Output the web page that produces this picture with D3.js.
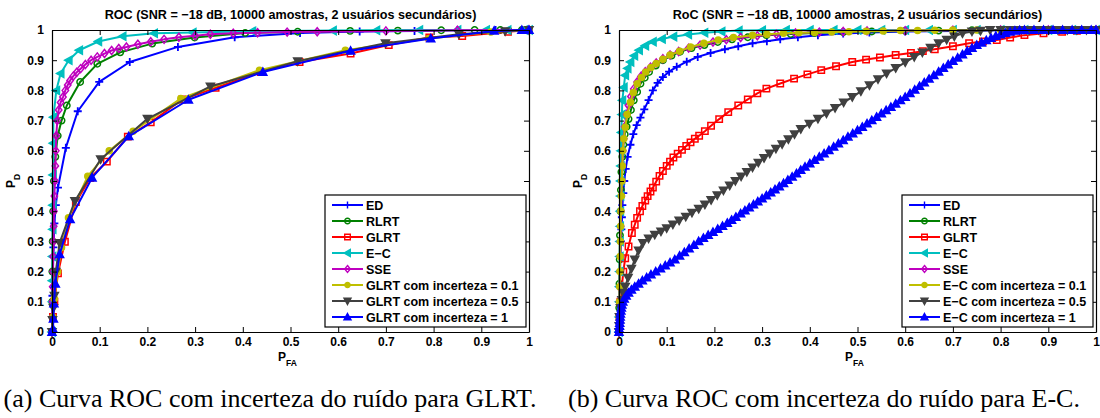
<!DOCTYPE html>
<html>
<head>
<meta charset="utf-8">
<script src="https://cdn.jsdelivr.net/npm/d3@7"></script>
<style>
  body { margin: 0; background: #fff; }
  svg { display: block; }
  text { font-family: "Liberation Sans", Arial, Helvetica, sans-serif; font-weight: bold; fill: #000; }
  .caption { font-family: "Liberation Serif", "Times New Roman", serif; font-weight: normal; }
</style>
</head>
<body>
<svg id="fig" width="1100" height="418"></svg>
<script>
// ---- axis ticks ----
const tickValues = [0, 0.1, 0.2, 0.3, 0.4, 0.5, 0.6, 0.7, 0.8, 0.9, 1];
const tickLabels = ["0", "0.1", "0.2", "0.3", "0.4", "0.5", "0.6", "0.7", "0.8", "0.9", "1"];

// ---- series names ----
const namesA = ["ED", "RLRT", "GLRT", "E\u2212C", "SSE",
  "GLRT com incerteza = 0.1", "GLRT com incerteza = 0.5", "GLRT com incerteza = 1"];
const namesB = ["ED", "RLRT", "GLRT", "E\u2212C", "SSE",
  "E\u2212C com incerteza = 0.1", "E\u2212C com incerteza = 0.5", "E\u2212C com incerteza = 1"];

// ---- panel (a): [PFA, PD] ----
const edA = [[0,0],[0.0005,0.05],[0.001,0.12],[0.002,0.2],[0.003,0.28],[0.005,0.36],[0.008,0.42],[0.0125,0.478],[0.029,0.61],[0.054,0.731],[0.099,0.828],[0.163,0.894],[0.264,0.944],[0.383,0.976],[0.52,0.99],[0.645,0.995],[0.76,0.997],[0.85,0.999],[0.93,1],[1,1]];
const rlrtA = [[0,0],[0.0003,0.1],[0.0008,0.2],[0.0015,0.3],[0.0025,0.4],[0.004,0.5],[0.007,0.58],[0.012,0.65],[0.02,0.7],[0.031,0.75],[0.059,0.828],[0.095,0.888],[0.143,0.926],[0.21,0.955],[0.299,0.975],[0.405,0.99],[0.515,0.994],[0.625,0.997],[0.725,0.998],[0.816,0.999],[0.886,1],[0.94,1],[0.985,1],[1,1]];
const glrtA = [[0,0],[0.002,0.05],[0.005,0.1],[0.0125,0.194],[0.027,0.299],[0.05,0.43],[0.08,0.51],[0.115,0.564],[0.159,0.647],[0.207,0.694],[0.273,0.77],[0.343,0.809],[0.438,0.861],[0.519,0.894],[0.626,0.922],[0.706,0.95],[0.791,0.975],[0.86,0.98],[0.956,0.994],[1,1]];
const ecA = [[0,0],[0.0003,0.1],[0.0006,0.17],[0.001,0.25],[0.0013,0.34],[0.0016,0.42],[0.002,0.52],[0.0025,0.625],[0.003,0.711],[0.009,0.8],[0.018,0.856],[0.035,0.9],[0.057,0.933],[0.097,0.962],[0.148,0.979],[0.214,0.989],[0.295,0.992],[0.42,0.996],[0.589,0.998],[0.68,0.999],[0.77,1],[0.85,1],[0.91,1],[0.955,1],[0.99,1],[1,1]];
const sseA = [[0,0],[0.0005,0.05],[0.001,0.1],[0.0015,0.15],[0.002,0.2],[0.0025,0.25],[0.003,0.3],[0.0035,0.35],[0.004,0.4],[0.005,0.45],[0.006,0.5],[0.007,0.55],[0.008,0.6],[0.009,0.65],[0.011,0.7],[0.014,0.735],[0.018,0.76],[0.023,0.778],[0.028,0.8],[0.033,0.818],[0.038,0.833],[0.045,0.848],[0.052,0.86],[0.06,0.872],[0.07,0.886],[0.082,0.9],[0.095,0.911],[0.11,0.922],[0.125,0.932],[0.14,0.939],[0.156,0.944],[0.18,0.953],[0.207,0.961],[0.235,0.969],[0.266,0.976],[0.3,0.981],[0.332,0.986],[0.38,0.989],[0.431,0.991],[0.493,0.993],[0.556,0.994],[0.7,0.997],[0.85,0.999],[1,1]];
const glrt01A = [[0,0],[0.002,0.05],[0.005,0.11],[0.012,0.2],[0.02,0.28],[0.0345,0.378],[0.075,0.516],[0.12,0.6],[0.17,0.665],[0.27,0.773],[0.435,0.867],[0.615,0.933],[0.79,0.972],[0.92,0.993],[1,1]];
const glrt05A = [[0,0],[0.001,0.04],[0.003,0.08],[0.005,0.12],[0.008,0.2],[0.016,0.295],[0.048,0.434],[0.102,0.572],[0.2,0.706],[0.332,0.813],[0.515,0.897],[0.699,0.956],[0.853,0.986],[0.95,0.996],[1,1]];
const glrt1A = [[0,0],[0.002,0.01],[0.003,0.044],[0.004,0.094],[0.007,0.16],[0.016,0.257],[0.038,0.373],[0.084,0.511],[0.161,0.648],[0.286,0.769],[0.442,0.861],[0.626,0.931],[0.794,0.972],[0.927,0.997],[0.985,1],[1,1]];

// ---- panel (b): [PFA, PD] ----
const edB = [[0,0],[0.0005,0.05],[0.001,0.1],[0.0015,0.15],[0.002,0.2],[0.003,0.25],[0.004,0.3],[0.005,0.34],[0.006,0.38],[0.007,0.42],[0.009,0.46],[0.011,0.5],[0.014,0.54],[0.018,0.58],[0.024,0.62],[0.03,0.655],[0.037,0.685],[0.045,0.71],[0.053,0.737],[0.062,0.768],[0.071,0.8],[0.081,0.825],[0.092,0.844],[0.105,0.862],[0.121,0.878],[0.142,0.895],[0.165,0.911],[0.192,0.924],[0.222,0.936],[0.25,0.946],[0.28,0.956],[0.31,0.963],[0.338,0.969],[0.375,0.976],[0.417,0.983],[0.47,0.988],[0.525,0.992],[0.6,0.995],[0.7,0.997],[0.8,0.999],[0.9,1],[1,1]];
const rlrtB = [[0,0],[0.0005,0.08],[0.001,0.16],[0.0015,0.24],[0.002,0.32],[0.003,0.4],[0.004,0.47],[0.005,0.53],[0.007,0.58],[0.009,0.62],[0.012,0.655],[0.016,0.68],[0.02,0.705],[0.025,0.735],[0.031,0.767],[0.038,0.795],[0.045,0.822],[0.054,0.842],[0.063,0.861],[0.077,0.882],[0.092,0.9],[0.11,0.915],[0.128,0.928],[0.152,0.94],[0.179,0.95],[0.207,0.96],[0.237,0.969],[0.27,0.976],[0.309,0.983],[0.36,0.987],[0.41,0.99],[0.47,0.993],[0.53,0.995],[0.6,0.997],[0.67,0.998],[0.74,0.999],[0.81,1],[0.87,1],[0.93,1],[1,1]];
const glrtB = [[0,0],[0.001,0.05],[0.003,0.1],[0.006,0.15],[0.009,0.2],[0.013,0.244],[0.02,0.283],[0.027,0.328],[0.033,0.355],[0.038,0.378],[0.044,0.4],[0.049,0.417],[0.055,0.435],[0.06,0.45],[0.066,0.465],[0.071,0.478],[0.078,0.498],[0.085,0.517],[0.092,0.533],[0.1,0.55],[0.107,0.564],[0.114,0.578],[0.123,0.59],[0.132,0.603],[0.141,0.616],[0.15,0.628],[0.159,0.64],[0.168,0.65],[0.18,0.665],[0.193,0.683],[0.21,0.705],[0.229,0.728],[0.25,0.75],[0.27,0.77],[0.29,0.79],[0.309,0.806],[0.338,0.823],[0.367,0.839],[0.395,0.853],[0.424,0.867],[0.455,0.88],[0.489,0.894],[0.518,0.902],[0.547,0.909],[0.58,0.917],[0.612,0.924],[0.637,0.93],[0.662,0.936],[0.7,0.946],[0.734,0.956],[0.763,0.962],[0.792,0.967],[0.82,0.975],[0.85,0.983],[0.89,0.989],[0.929,0.994],[0.96,0.997],[0.994,1],[1,1]];
const ecB = [[0,0],[0.0003,0.05],[0.0006,0.1],[0.001,0.15],[0.0013,0.2],[0.0016,0.25],[0.002,0.3],[0.0023,0.35],[0.0026,0.4],[0.003,0.45],[0.0033,0.5],[0.0037,0.55],[0.004,0.6],[0.005,0.661],[0.006,0.72],[0.007,0.767],[0.01,0.81],[0.013,0.85],[0.018,0.873],[0.024,0.894],[0.032,0.915],[0.042,0.933],[0.055,0.948],[0.071,0.961],[0.09,0.97],[0.114,0.978],[0.145,0.985],[0.179,0.991],[0.215,0.995],[0.251,0.998],[0.3,0.999],[0.35,1],[0.4,1],[0.45,1],[0.5,1],[0.55,1],[0.6,1],[0.65,1],[0.7,1],[0.75,1],[0.8,1],[0.85,1],[0.9,1],[0.95,1],[1,1]];
const sseB = [[0,0],[0.0005,0.05],[0.001,0.1],[0.0015,0.15],[0.002,0.2],[0.0025,0.25],[0.003,0.3],[0.0035,0.35],[0.004,0.4],[0.005,0.45],[0.006,0.5],[0.007,0.55],[0.008,0.6],[0.01,0.64],[0.012,0.68],[0.016,0.72],[0.02,0.75],[0.025,0.78],[0.031,0.805],[0.038,0.828],[0.046,0.846],[0.055,0.862],[0.066,0.877],[0.078,0.891],[0.092,0.905],[0.107,0.917],[0.125,0.929],[0.146,0.94],[0.17,0.95],[0.197,0.96],[0.225,0.968],[0.255,0.975],[0.29,0.981],[0.33,0.986],[0.37,0.99],[0.42,0.993],[0.47,0.995],[0.52,0.997],[0.6,0.998],[0.7,0.999],[0.8,1],[0.9,1],[1,1]];
const ec01B = [[0,0],[0.0005,0.05],[0.001,0.1],[0.0015,0.15],[0.002,0.2],[0.0025,0.25],[0.003,0.3],[0.0035,0.35],[0.004,0.4],[0.005,0.45],[0.006,0.5],[0.007,0.55],[0.008,0.6],[0.01,0.64],[0.013,0.678],[0.017,0.72],[0.024,0.761],[0.03,0.793],[0.038,0.822],[0.047,0.843],[0.056,0.861],[0.067,0.876],[0.078,0.889],[0.092,0.903],[0.107,0.917],[0.127,0.93],[0.15,0.944],[0.178,0.956],[0.208,0.967],[0.24,0.975],[0.28,0.983],[0.31,0.986],[0.345,0.989],[0.377,0.991],[0.41,0.992],[0.446,0.993],[0.482,0.994],[0.518,0.996],[0.554,0.997],[0.59,0.998],[0.626,0.998],[0.662,0.999],[0.7,1],[0.75,1],[0.8,1],[0.85,1],[0.9,1],[0.95,1],[1,1]];
const ec05B = [[0,0],[0.0005,0.02],[0.001,0.05],[0.003,0.08],[0.006,0.106],[0.009,0.13],[0.013,0.15],[0.019,0.18],[0.026,0.21],[0.033,0.24],[0.041,0.27],[0.05,0.295],[0.062,0.31],[0.075,0.322],[0.088,0.333],[0.1,0.344],[0.113,0.356],[0.126,0.369],[0.14,0.382],[0.153,0.395],[0.167,0.408],[0.18,0.422],[0.193,0.437],[0.206,0.453],[0.219,0.469],[0.232,0.485],[0.244,0.5],[0.256,0.515],[0.268,0.53],[0.28,0.545],[0.292,0.561],[0.304,0.576],[0.316,0.591],[0.329,0.607],[0.342,0.622],[0.355,0.638],[0.368,0.655],[0.381,0.672],[0.399,0.69],[0.417,0.706],[0.435,0.724],[0.453,0.742],[0.471,0.76],[0.489,0.778],[0.507,0.797],[0.525,0.817],[0.543,0.837],[0.561,0.856],[0.58,0.874],[0.6,0.893],[0.619,0.911],[0.636,0.926],[0.653,0.941],[0.67,0.956],[0.687,0.968],[0.703,0.979],[0.72,0.989],[0.74,0.995],[0.758,0.998],[0.778,1],[0.8,1],[0.82,1],[0.84,1],[0.86,1],[0.88,1],[0.9,1],[0.92,1],[0.94,1],[0.96,1],[0.98,1],[1,1]];
const ec1B = [[0,0],[0.0005,0.01],[0.001,0.02],[0.0015,0.03],[0.002,0.04],[0.0025,0.05],[0.003,0.06],[0.004,0.07],[0.005,0.08],[0.006,0.09],[0.008,0.1],[0.011,0.11],[0.015,0.12],[0.02,0.13],[0.026,0.14],[0.033,0.15],[0.041,0.16],[0.049,0.17],[0.058,0.18],[0.067,0.19],[0.077,0.2],[0.087,0.21],[0.097,0.22],[0.107,0.23],[0.117,0.24],[0.127,0.252],[0.137,0.264],[0.147,0.276],[0.157,0.288],[0.167,0.3],[0.177,0.311],[0.187,0.321],[0.197,0.331],[0.207,0.341],[0.217,0.351],[0.227,0.361],[0.236,0.371],[0.245,0.381],[0.255,0.392],[0.264,0.402],[0.273,0.412],[0.282,0.422],[0.291,0.432],[0.3,0.442],[0.309,0.452],[0.318,0.462],[0.327,0.472],[0.336,0.482],[0.345,0.492],[0.354,0.503],[0.363,0.514],[0.372,0.525],[0.381,0.536],[0.39,0.547],[0.4,0.558],[0.41,0.569],[0.42,0.58],[0.43,0.591],[0.44,0.602],[0.45,0.613],[0.46,0.624],[0.47,0.635],[0.48,0.646],[0.49,0.657],[0.5,0.668],[0.51,0.679],[0.52,0.69],[0.53,0.701],[0.54,0.712],[0.55,0.723],[0.56,0.734],[0.57,0.745],[0.58,0.756],[0.59,0.767],[0.6,0.778],[0.61,0.79],[0.62,0.802],[0.63,0.814],[0.64,0.826],[0.65,0.838],[0.66,0.85],[0.67,0.862],[0.68,0.874],[0.69,0.886],[0.7,0.897],[0.71,0.908],[0.72,0.919],[0.73,0.93],[0.74,0.94],[0.75,0.95],[0.76,0.958],[0.77,0.966],[0.78,0.973],[0.79,0.98],[0.8,0.985],[0.81,0.99],[0.82,0.994],[0.83,0.997],[0.84,0.999],[0.85,1],[0.87,1],[0.89,1],[0.91,1],[0.93,1],[0.95,1],[0.97,1],[0.99,1],[1,1]];

// ---- styles per series (same order as the names) ----
const seriesColors = ["#0000ff", "#008000", "#ff0000", "#00bfbf", "#bf00bf", "#bfbf00", "#404040", "#0000ff"];
const seriesMarkers = ["plus", "circle", "square", "triLeft", "diamond", "dot", "triDown", "triUp"];

const svg = d3.select("#fig");

// marker path generators centred on (0,0)
function markerPath(kind, s) {
  const p = d3.path();
  const h = s / 2;
  switch (kind) {
    case "plus":
      p.moveTo(-h, 0); p.lineTo(h, 0); p.moveTo(0, -h); p.lineTo(0, h); break;
    case "circle":
      p.moveTo(h * 0.8, 0); p.arc(0, 0, h * 0.8, 0, 2 * Math.PI); break;
    case "dot":
      p.moveTo(h * 0.75, 0); p.arc(0, 0, h * 0.75, 0, 2 * Math.PI); break;
    case "square":
      p.rect(-h * 0.8, -h * 0.8, h * 1.6, h * 1.6); break;
    case "diamond":
      p.moveTo(0, -h); p.lineTo(h * 0.8, 0); p.lineTo(0, h); p.lineTo(-h * 0.8, 0); p.closePath(); break;
    case "triUp":
      p.moveTo(0, -h); p.lineTo(h, h * 0.8); p.lineTo(-h, h * 0.8); p.closePath(); break;
    case "triDown":
      p.moveTo(0, h); p.lineTo(h, -h * 0.8); p.lineTo(-h, -h * 0.8); p.closePath(); break;
    case "triLeft":
      p.moveTo(-h, 0); p.lineTo(h * 0.8, -h); p.lineTo(h * 0.8, h); p.closePath(); break;
  }
  return p.toString();
}
const filledMarkers = new Set(["triLeft", "triDown", "triUp", "dot"]);

function drawPanel(cfg) {
  const { left, right, top, bottom, title, names, series, legend, markerSize } = cfg;
  const g = svg.append("g");
  const x = d3.scaleLinear().domain([0, 1]).range([left, right]);
  const y = d3.scaleLinear().domain([0, 1]).range([bottom, top]);

  // curves
  const line = d3.line().x(d => x(d[0])).y(d => y(d[1]));
  series.forEach((data, i) => {
    const col = seriesColors[i], mk = seriesMarkers[i];
    const sg = g.append("g");
    sg.append("path").datum(data).attr("d", line)
      .attr("fill", "none").attr("stroke", col).attr("stroke-width", 2).attr("stroke-linejoin", "round");
    sg.selectAll("path.m").data(data).join("path").attr("class", "m")
      .attr("transform", d => `translate(${x(d[0])},${y(d[1])})`)
      .attr("d", markerPath(mk, markerSize))
      .attr("fill", filledMarkers.has(mk) ? col : "none")
      .attr("stroke", col).attr("stroke-width", mk === "plus" ? 1.8 : 1.5);
  });

  // axes with inward ticks on all four sides
  const tk = 5;
  const axB = d3.axisBottom(x).tickValues(tickValues).tickSizeInner(-tk).tickSizeOuter(0)
    .tickFormat((d, i) => tickLabels[i]).tickPadding(5);
  const axL = d3.axisLeft(y).tickValues(tickValues).tickSizeInner(-tk).tickSizeOuter(0)
    .tickFormat((d, i) => tickLabels[i]).tickPadding(8);
  const axT = d3.axisTop(x).tickValues(tickValues).tickSizeInner(-tk).tickSizeOuter(0).tickFormat("");
  const axR = d3.axisRight(y).tickValues(tickValues).tickSizeInner(-tk).tickSizeOuter(0).tickFormat("");
  const styleAxis = sel => {
    sel.select(".domain").attr("stroke", "#000").attr("stroke-width", 1.2);
    sel.selectAll(".tick line").attr("stroke", "#000").attr("stroke-width", 1);
    sel.selectAll("text").attr("font-family", "Liberation Sans, Arial, sans-serif")
      .attr("font-weight", "bold").attr("font-size", 12).attr("fill", "#000");
  };
  g.append("g").attr("transform", `translate(0,${bottom})`).call(axB).call(styleAxis);
  g.append("g").attr("transform", `translate(${left},0)`).call(axL).call(styleAxis);
  g.append("g").attr("transform", `translate(0,${top})`).call(axT).call(styleAxis);
  g.append("g").attr("transform", `translate(${right},0)`).call(axR).call(styleAxis);

  // title
  g.append("text").attr("x", (left + right) / 2).attr("y", 19).attr("text-anchor", "middle")
    .attr("font-size", 12.6).text(title);

  // axis labels
  const xl = g.append("text").attr("x", (left + right) / 2 - 3).attr("y", 361)
    .attr("text-anchor", "middle").attr("font-size", 12);
  xl.append("tspan").text("P");
  xl.append("tspan").attr("font-size", 8.5).attr("dy", 5).text("FA");
  const yl = g.append("text").attr("transform", `translate(${left - 37},${(top + bottom) / 2}) rotate(-90)`)
    .attr("text-anchor", "middle").attr("font-size", 12);
  yl.append("tspan").text("P");
  yl.append("tspan").attr("font-size", 8.5).attr("dy", 5).text("D");

  // legend
  const lg = g.append("g");
  lg.append("rect").attr("x", legend.x0).attr("y", legend.y0)
    .attr("width", legend.x1 - legend.x0).attr("height", legend.y1 - legend.y0)
    .attr("fill", "#fff").attr("stroke", "#000").attr("stroke-width", 1.2);
  names.forEach((nm, i) => {
    const cy = legend.y0 + 10 + i * 16;
    const lx0 = legend.x0 + 7, lx1 = legend.x0 + 38;
    lg.append("line").attr("x1", lx0).attr("x2", lx1).attr("y1", cy).attr("y2", cy)
      .attr("stroke", seriesColors[i]).attr("stroke-width", 2);
    const mk = seriesMarkers[i];
    lg.append("path").attr("transform", `translate(${(lx0 + lx1) / 2},${cy})`)
      .attr("d", markerPath(mk, 7))
      .attr("fill", filledMarkers.has(mk) ? seriesColors[i] : "none")
      .attr("stroke", seriesColors[i]).attr("stroke-width", 1.4);
    lg.append("text").attr("x", legend.x0 + 41).attr("y", cy + 4.5).attr("font-size", 12.5).text(nm);
  });
}

drawPanel({
  left: 52, right: 529, top: 30, bottom: 332,
  title: "ROC (SNR = \u221218 dB, 10000 amostras, 2 usu\u00e1rios secund\u00e1rios)",
  names: namesA,
  series: [edA, rlrtA, glrtA, ecA, sseA, glrt01A, glrt05A, glrt1A],
  legend: { x0: 325, x1: 526, y0: 195, y1: 327 },
  markerSize: 8
});
drawPanel({
  left: 619, right: 1096, top: 30, bottom: 332,
  title: "RoC (SNR = \u221218 dB, 10000 amostras, 2 usu\u00e1rios secund\u00e1rios)",
  names: namesB,
  series: [edB, rlrtB, glrtB, ecB, sseB, ec01B, ec05B, ec1B],
  legend: { x0: 902, x1: 1093, y0: 195, y1: 327 },
  markerSize: 8
});

// sub-figure captions
svg.append("text").attr("class", "caption").attr("x", 270).attr("y", 407)
  .attr("text-anchor", "middle").attr("font-size", 26)
  .text("(a) Curva ROC com incerteza do ru\u00eddo para GLRT.");
svg.append("text").attr("class", "caption").attr("x", 824).attr("y", 407)
  .attr("text-anchor", "middle").attr("font-size", 26)
  .text("(b) Curva ROC com incerteza do ru\u00eddo para E-C.");
</script>
</body>
</html>
